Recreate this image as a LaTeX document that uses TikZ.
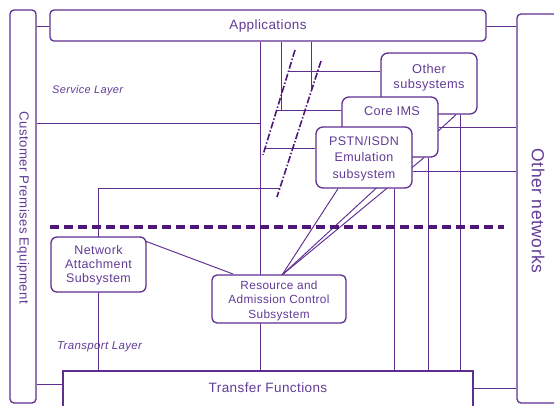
\documentclass[tikz,border=0pt]{standalone}
\usepackage{fontspec}
\setmainfont{Liberation Sans}[LetterSpace=3]
\usetikzlibrary{backgrounds}
\definecolor{pl}{RGB}{94,46,145}
\definecolor{pd}{RGB}{78,24,122}
\definecolor{pt}{RGB}{98,60,150}
\begin{document}
\begin{tikzpicture}[x=1pt,y=-1pt,
  ln/.style={draw=pl, line width=0.95pt},
  bx/.style={draw=pl, line width=1.3pt, fill=white, rounded corners=7pt, inner sep=0pt},
  sbx/.style={bx, rounded corners=4pt},
  txt/.style={text=pt, inner sep=0pt, align=center},
  lay/.style={text=pt, inner sep=0pt, anchor=west},
  cut/.style={draw=pd, line width=1.6pt, dash pattern=on 7pt off 2pt on 1.5pt off 2pt},
  sep/.style={draw=pd, line width=3.4pt, dash pattern=on 9pt off 5pt}]
\useasboundingbox (0,0) rectangle (554,405);
\clip (0,0) rectangle (554,405);

% boxes
\node[sbx, minimum width=26pt, minimum height=393pt] (cpe) at (23,206.5) {};
\node[txt, rotate=-90, font=\fontsize{13.2}{15}\selectfont] (cpeT) at (23,208) {Customer Premises Equipment};
\node[sbx, minimum width=436pt, minimum height=31pt] (app) at (268,25.5) {};
\node[txt, font=\fontsize{13.5}{16}\selectfont] (appT) at (268,26) {Applications};
\node[sbx, minimum width=60pt, minimum height=389pt] (onet) at (547,208.5) {};
\node[txt, rotate=-90, font=\fontsize{17.5}{20}\selectfont] (onetT) at (538,211) {Other networks};

\node[bx, minimum width=96pt, minimum height=61pt] (oth) at (429,83.5) {};
\node[txt, font=\fontsize{12.8}{15}\selectfont] (othT) at (429,78) {Other\\subsystems};
\node[bx, minimum width=96pt, minimum height=60pt] (core) at (390,127) {};
\node[txt, font=\fontsize{12.7}{15}\selectfont] (coreT) at (392,111) {Core IMS};
\node[bx, minimum width=96pt, minimum height=61pt] (pstn) at (364,157.5) {};
\node[txt, font=\fontsize{12.5}{16.5}\selectfont] (pstnT) at (364,158.5) {PSTN/ISDN\\Emulation\\subsystem};

\node[bx, rounded corners=6pt, minimum width=95pt, minimum height=55pt] (nas) at (98.5,264.5) {};
\node[txt, font=\fontsize{12.5}{14}\selectfont] (nasT) at (98.5,265.5) {Network\\Attachment\\Subsystem};
\node[bx, rounded corners=5pt, minimum width=134pt, minimum height=48pt] (racs) at (279,299) {};
\node[txt, font=\fontsize{11.8}{14.5}\selectfont] (racsT) at (279,300.5) {Resource and\\Admission Control\\Subsystem};

\node[draw=pl, line width=1.3pt, fill=white, inner sep=0pt, minimum width=410pt, minimum height=50pt] (tf) at (268,396) {};
\node[txt, font=\fontsize{13.5}{16}\selectfont] (tfT) at (268,388) {Transfer Functions};

\node[lay, font=\fontsize{11}{13}\selectfont\itshape] (slT) at (52,91) {Service Layer};
\node[lay, font=\fontsize{11.5}{13}\selectfont\itshape] (tlT) at (57,347) {Transport Layer};

% connectors
\begin{scope}[on background layer]
\coordinate (rt) at (282,275);
\draw[ln] (cpe.east |- 0,26) -- (app.west |- 0,26);
\draw[ln] (app.east |- 0,26) -- (onet.west |- 0,26);
\draw[ln] (cpe.east |- 0,123) -- (260,123);
\draw[ln] (cpe.east |- 0,384) -- (tf.west |- 0,384);
\draw[ln] (tf.east |- 0,388) -- (onet.west |- 0,388);
\draw[ln] (app.south -| 260,0) -- (tf.north -| 260,0);
\draw[ln] (app.south -| 281,0) -- (281,110);
\draw[ln] (app.south -| 311,0) -- (311,89);
\draw[ln] (289,71) -- (oth.west |- 0,71);
\draw[ln] (277,110) -- (core.west |- 0,110);
\draw[ln] (265,148) -- (pstn.west |- 0,148);
\draw[ln] (280,188) -- (98,188) -- (tf.north -| 98,0);
\draw[ln] (145,241) -- (233,274);
\draw[ln] (rt) -- (pstn.south -| 338,0);
\draw[ln] (rt) -- (core.south -| 424,0);
\draw[ln] (rt) -- (oth.south -| 456,0);
\draw[ln] (pstn.south -| 394,0) -- (tf.north -| 394,0);
\draw[ln] (core.south -| 428,0) -- (tf.north -| 428,0);
\draw[ln] (oth.south -| 460,0) -- (tf.north -| 460,0);
\draw[ln] (core.east |- 0,127) -- (onet.west |- 0,127);
\draw[ln] (pstn.east |- 0,171) -- (onet.west |- 0,171);
\end{scope}
\draw[cut] (295,50) -- (263,155);
\draw[cut] (321,61) -- (277,197);
\draw[sep] (50,227) -- (504,227);
\end{tikzpicture}
\end{document}
